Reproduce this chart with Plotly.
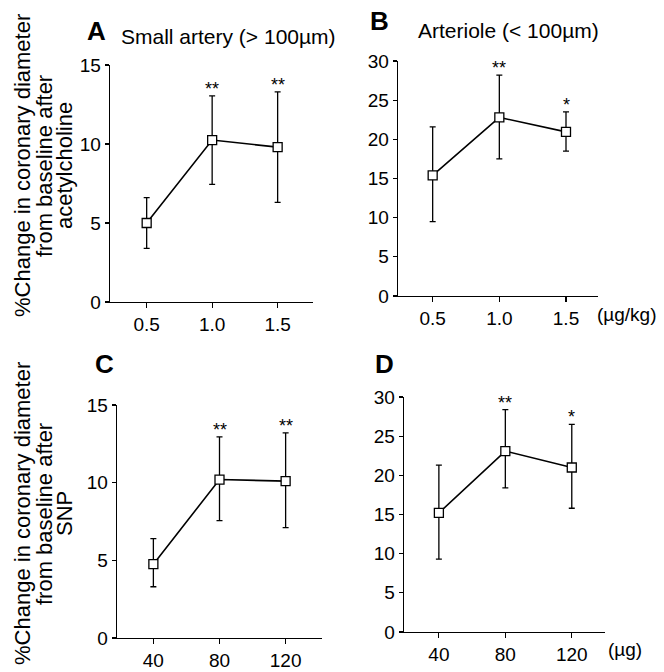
import plotly.graph_objects as go

# ---------------- data ----------------
doses_ach = [0.5, 1.0, 1.5]
doses_snp = [40, 80, 120]
ach_tick_labels = ["0.5", "1.0", "1.5"]
snp_tick_labels = ["40", "80", "120"]

a_mean = [5.0, 10.25, 9.8]
a_upper = [6.6, 13.05, 13.3]
a_lower = [3.4, 7.45, 6.3]
a_stars = ["", "**", "**"]

b_mean = [15.4, 22.8, 20.95]
b_upper = [21.6, 28.2, 23.5]
b_lower = [9.5, 17.5, 18.5]
b_stars = ["", "**", "*"]

c_mean = [4.75, 10.2, 10.1]
c_upper = [6.4, 12.95, 13.2]
c_lower = [3.3, 7.55, 7.1]
c_stars = ["", "**", "**"]

d_mean = [15.2, 23.1, 21.0]
d_upper = [21.3, 28.4, 26.5]
d_lower = [9.3, 18.4, 15.8]
d_stars = ["", "**", "*"]

yticks_15 = [0, 5, 10, 15]
yticks_30 = [0, 5, 10, 15, 20, 25, 30]

panel_letters = ["A", "B", "C", "D"]
panel_subtitles = ["Small artery (> 100µm)", "Arteriole (< 100µm)", "", ""]
ytitle_ach = ["%Change in coronary diameter", "from baseline after", "acetylcholine"]
ytitle_snp = ["%Change in coronary diameter", "from baseline after", "SNP"]
unit_ach = "(µg/kg)"
unit_snp = "(µg)"

# ---------------- layout helpers ----------------
W, H = 664, 672
FONT = "Liberation Sans, Arial, Helvetica, sans-serif"


def px_x(p):
    return p / W


def px_y(p):
    return 1 - p / H


panels = [
    dict(x=doses_ach, m=a_mean, u=a_upper, l=a_lower, s=a_stars, tl=ach_tick_labels,
         yt=yticks_15, xr=[0.22, 1.77], yr=[0, 15], dx=[110, 313], dy=[302, 65]),
    dict(x=doses_ach, m=b_mean, u=b_upper, l=b_lower, s=b_stars, tl=ach_tick_labels,
         yt=yticks_30, xr=[0.24, 1.74], yr=[0, 30], dx=[398, 598], dy=[296, 61]),
    dict(x=doses_snp, m=c_mean, u=c_upper, l=c_lower, s=c_stars, tl=snp_tick_labels,
         yt=yticks_15, xr=[18, 142], yr=[0, 15], dx=[117, 322], dy=[638, 405]),
    dict(x=doses_snp, m=d_mean, u=d_upper, l=d_lower, s=d_stars, tl=snp_tick_labels,
         yt=yticks_30, xr=[19, 140], yr=[0, 30], dx=[404, 605], dy=[632, 397]),
]

fig = go.Figure()
layout = dict(
    width=W, height=H,
    margin=dict(l=0, r=0, t=0, b=0, autoexpand=False),
    paper_bgcolor="white", plot_bgcolor="white",
    showlegend=False,
    hovermode=False,
    font=dict(family=FONT, color="black"),
)
annotations = []

for i, p in enumerate(panels):
    k = "" if i == 0 else str(i + 1)
    xa, ya = "x" + k, "y" + k
    err_plus = [u - m for u, m in zip(p["u"], p["m"])]
    err_minus = [m - l for m, l in zip(p["m"], p["l"])]
    fig.add_trace(go.Scatter(
        x=p["x"], y=p["m"], xaxis=xa, yaxis=ya,
        mode="lines+markers",
        line=dict(color="black", width=1.6),
        marker=dict(symbol="square", size=9, color="white",
                    line=dict(color="black", width=1.3)),
        error_y=dict(type="data", symmetric=False, array=err_plus,
                     arrayminus=err_minus, color="black", thickness=1.3, width=3),
        cliponaxis=False,
    ))
    common = dict(showline=True, linecolor="black", linewidth=1.3, ticks="outside",
                  ticklen=5, tickwidth=1.2, tickcolor="black", showgrid=False,
                  zeroline=False, automargin=False,
                  tickfont=dict(family=FONT, size=19, color="black"))
    layout["xaxis" + k] = dict(common, domain=[px_x(p["dx"][0]), px_x(p["dx"][1])],
                               range=p["xr"], tickmode="array", tickvals=p["x"],
                               ticktext=p["tl"], anchor=ya)
    layout["yaxis" + k] = dict(common, domain=[px_y(p["dy"][0]), px_y(p["dy"][1])],
                               range=p["yr"], tickmode="array", tickvals=p["yt"],
                               anchor=xa, ticklen=4)
    for xv, uv, st in zip(p["x"], p["u"], p["s"]):
        if st:
            annotations.append(dict(x=xv, y=uv, xref=xa, yref=ya, text=st,
                                    showarrow=False, yanchor="middle", yshift=7,
                                    font=dict(size=18, family=FONT)))

# panel letters
letter_pos = [(96, 31), (379, 21), (104, 364), (384, 364)]
for letter, (lx, ly) in zip(panel_letters, letter_pos):
    annotations.append(dict(x=px_x(lx), y=px_y(ly), xref="paper", yref="paper",
                            text="<b>" + letter + "</b>", showarrow=False,
                            xanchor="center", yanchor="middle",
                            font=dict(size=26, family=FONT)))

# subtitles
sub_pos = [(119, 36), (416, 31)]
for txt, (sx, sy) in zip(panel_subtitles[:2], sub_pos):
    annotations.append(dict(x=px_x(sx), y=px_y(sy), xref="paper", yref="paper",
                            text=txt, showarrow=False, xanchor="left",
                            yanchor="middle", font=dict(size=21, family=FONT)))

# y titles
line_x = [22, 44, 64]
for lines, cy in [(ytitle_ach, 166), (ytitle_snp, 514)]:
    for txt, lx in zip(lines, line_x):
        annotations.append(dict(x=px_x(lx), y=px_y(cy), xref="paper", yref="paper",
                                text=txt, showarrow=False, textangle=-90,
                                xanchor="center", yanchor="middle",
                                font=dict(size=22, family=FONT)))

# units
annotations.append(dict(x=px_x(595), y=px_y(314), xref="paper", yref="paper",
                        text=unit_ach, showarrow=False, xanchor="left",
                        yanchor="middle", font=dict(size=19, family=FONT)))
annotations.append(dict(x=px_x(606), y=px_y(649), xref="paper", yref="paper",
                        text=unit_snp, showarrow=False, xanchor="left",
                        yanchor="middle", font=dict(size=19, family=FONT)))

layout["annotations"] = annotations
fig.update_layout(**layout)
fig.write_html(
    "out.html",
    config={"displayModeBar": False, "staticPlot": True},
    post_script="document.body.style.margin='0';document.body.style.overflow='hidden';",
)
